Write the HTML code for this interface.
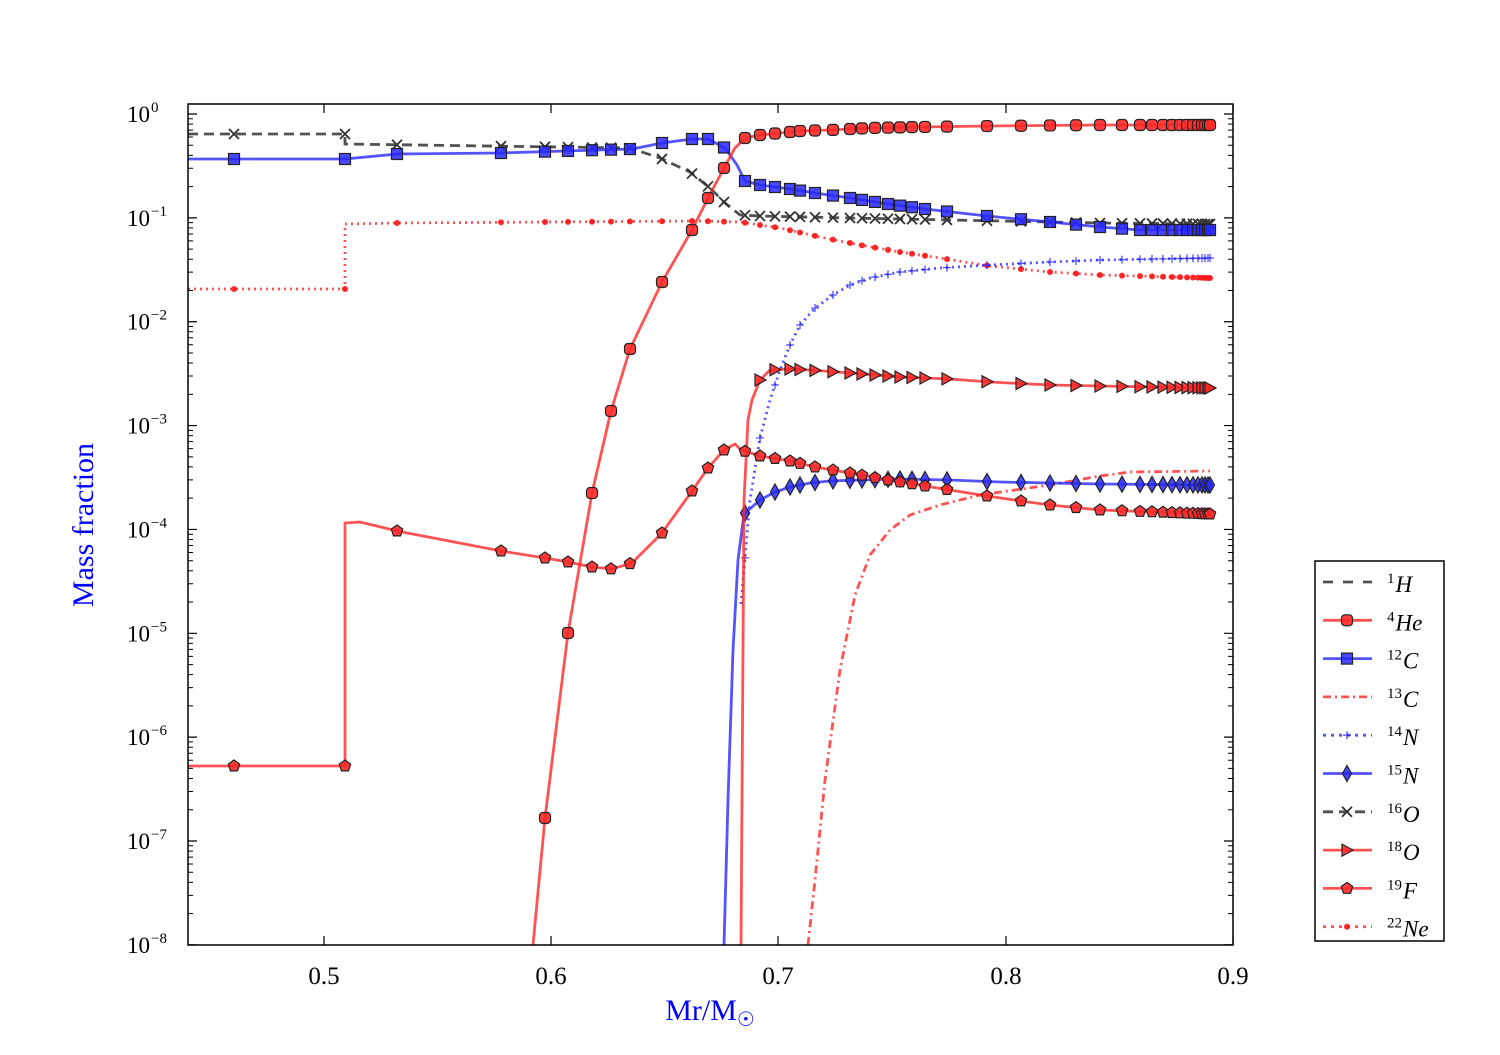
<!DOCTYPE html>
<html><head><meta charset="utf-8"><style>
html,body{margin:0;padding:0;background:#fff}
svg text{font-family:"Liberation Serif",serif}
</style></head><body>
<svg id="s" width="1500" height="1050" xmlns="http://www.w3.org/2000/svg"></svg>
<script>
const S=document.getElementById('s');let h='';
const RED='rgba(255,40,40,0.8)',BLUE='rgba(40,40,255,0.8)',GRAY='rgba(50,50,50,0.85)';
const L=188,R=1233,T=104,B=945;
h+=`<defs><clipPath id="c"><rect x="${L}" y="${T}" width="${R-L}" height="${B-T}"/></clipPath></defs>`;
const MX=[234,345,397,501,545,568,592,611,630,662,692,708,724,745,760,775,790,800,815,833,850,862,875,888,900,912,925,947,987,1021,1050,1076,1100,1122,1140,1152,1163,1172,1180,1187,1193,1198,1202,1205,1208,1210];
function interp(p,x){for(let i=0;i<p.length-1;i++){if(x>=p[i][0]&&x<=p[i+1][0]){const a=p[i],b=p[i+1];if(b[0]==a[0])return b[1];return a[1]+(b[1]-a[1])*(x-a[0])/(b[0]-a[0]);}}return null;}
function marker(t,x,y,fill){const st=`fill="${fill}" stroke="#222" stroke-width="1.2"`;
 if(t=='o')return `<rect x="${x-5.5}" y="${y-5.5}" width="11" height="11" rx="3.5" ${st}/>`;
 if(t=='s')return `<rect x="${x-5.5}" y="${y-5.5}" width="11" height="11" ${st}/>`;
 if(t=='d')return `<polygon points="${x},${y-8} ${x+4.5},${y} ${x},${y+8} ${x-4.5},${y}" ${st}/>`;
 if(t=='>')return `<polygon points="${x-5},${y-6} ${x+6},${y} ${x-5},${y+6}" ${st}/>`;
 if(t=='p'){let pts=[];for(let k=0;k<5;k++){const a=-Math.PI/2+k*2*Math.PI/5;pts.push((x+6*Math.cos(a)).toFixed(1)+','+(y+6*Math.sin(a)).toFixed(1));}return `<polygon points="${pts.join(' ')}" ${st}/>`;}
 if(t=='x')return `<path d="M${x-5} ${y-5}L${x+5} ${y+5}M${x-5} ${y+5}L${x+5} ${y-5}" stroke="#333" stroke-width="1.8"/>`;
 if(t=='+')return `<path d="M${x-4} ${y}L${x+4} ${y}M${x} ${y-4}L${x} ${y+4}" stroke="${BLUE}" stroke-width="1.3"/>`;
 if(t=='.')return `<circle cx="${x}" cy="${y}" r="3" fill="rgba(255,20,20,0.9)"/>`;
 return '';}
function series(p,col,dash,m,fill,mstart){h+=`<polyline clip-path="url(#c)" points="${p.map(q=>q.join(',')).join(' ')}" fill="none" stroke="${col}" stroke-width="2.8" ${dash?`stroke-dasharray="${dash}"`:''}/>`;
 if(!m)return;for(const x of MX){if(x<mstart)continue;const y=interp(p,x);if(y==null||y>B)continue;h+=marker(m,x,y,fill);}}
const O16=[[188,134],[345,134],[345,144],[630,148],[660,158],[690,172],[710,188],[725,203],[740,215],[760,216],[850,218],[950,220],[1100,223],[1210,224]];
const He=[[533,945],[545,818],[568,633],[592,493],[611,411],[630,349],[662,282],[692,230],[708,198],[724,168],[735,148],[745,138],[760,135],[780,133],[800,131],[830,130],[870,128],[920,127],[990,126],[1100,125],[1210,125]];
const C12=[[188,159],[345,159],[397,154],[501,153],[632,149],[662,143],[692,139],[708,139],[725,148],[737,165],[745,181],[760,185],[790,189],[815,193],[850,198],[888,204],[925,209],[987,216],[1050,222],[1100,227],[1140,230],[1210,230]];
const C13=[[808,945],[815,880],[825,780],[840,670],[855,595],[870,555],[890,530],[910,515],[940,505],[980,495],[1050,485],[1100,476],[1130,472],[1210,471]];
const N14=[[741,604],[750,500],[760,438],[770,400],[780,370],[790,345],[800,325],[815,308],[833,295],[850,285],[870,278],[900,272],[940,268],[990,265],[1050,262],[1100,260],[1210,258]];
const N15=[[724,945],[728,800],[733,650],[738,560],[744,514],[760,500],[775,492],[790,487],[810,483],[830,481],[860,480],[900,479],[950,480],[1000,482],[1100,484],[1210,485]];
const O18=[[741,945],[744,500],[748,420],[752,400],[760,380],[770,370],[790,369],[810,370],[850,373],[900,377],[950,379],[990,382],[1050,385],[1100,386],[1210,388]];
const F19=[[188,766],[345,766],[345,523],[360,522],[397,531],[501,551],[545,558],[568,562],[592,567],[612,569],[632,563],[662,533],[692,491],[708,468],[724,450],[735,444],[741,450],[760,456],[790,461],[815,467],[850,473],[888,480],[925,486],[987,496],[1021,501],[1050,505],[1100,510],[1210,514]];
const Ne=[[188,289],[345,289],[345,224],[397,223],[700,221],[740,222],[780,228],[820,237],[860,245],[900,252],[940,258],[990,266],[1050,272],[1100,275],[1210,278]];
series(Ne,RED,'2,4','.',null,230);
series(C13,RED,'8,4,2,4',null);
series(N14,BLUE,'2,4','+',null,744);
series(O16,GRAY,'10,6','x',null,230);
series(C12,BLUE,null,'s','rgba(40,40,255,0.85)',230);
series(He,RED,null,'o','rgba(255,40,40,0.9)',540);
series(N15,BLUE,null,'d','rgba(40,40,255,0.85)',745);
series(O18,RED,null,'>','rgba(255,40,40,0.9)',757);
series(F19,RED,null,'p','rgba(255,40,40,0.9)',230);
h+=`<rect x="${L}" y="${T}" width="${R-L}" height="${B-T}" fill="none" stroke="#000" stroke-width="1.5"/>`;
for(let d=0;d<=8;d++){const y=114+d*103.86;if(y<=B+1){h+=`<path d="M${L} ${y}h9M${R} ${y}h-9" stroke="#000" stroke-width="1.2"/>`;
 h+=`<text x="150" y="${y+8}" font-size="23" text-anchor="end">10</text><text x="151" y="${y-2}" font-size="15">${d==0?'0':'−'+d}</text>`;}
 for(let k=2;k<10;k++){const yy=y-Math.log10(k)*103.86;if(yy>T&&yy<B)h+=`<path d="M${L} ${yy}h5M${R} ${yy}h-5" stroke="#000" stroke-width="1"/>`;}}
const xs=[[324,'0.5'],[551,'0.6'],[778,'0.7'],[1006,'0.8'],[1233,'0.9']];
for(const [x,t] of xs){h+=`<path d="M${x} ${B}v-9M${x} ${T}v9" stroke="#000" stroke-width="1.2"/><text x="${x}" y="984" font-size="25" text-anchor="middle">${t}</text>`;}
h+=`<text x="710" y="1020" font-size="30" fill="#0000ff" text-anchor="middle">Mr/M<tspan font-size="20" dy="6">☉</tspan></text>`;
h+=`<text transform="translate(93,525) rotate(-90)" font-size="30" fill="#0000ff" text-anchor="middle">Mass fraction</text>`;
h+=`<rect x="1315" y="561" width="129" height="380" fill="#fff" stroke="#000" stroke-width="1.5"/>`;
const leg=[['1','H',GRAY,'10,10',''],['4','He',RED,null,'o'],['12','C',BLUE,null,'s'],['13','C',RED,'8,4,2,4',''],['14','N',BLUE,'3,5','+'],['15','N',BLUE,null,'d'],['16','O',GRAY,'10,6','x'],['18','O',RED,null,'>'],['19','F',RED,null,'p'],['22','Ne',RED,'3,5','.']];
leg.forEach((e,i)=>{const y=582+i*38.3;h+=`<line x1="1323" x2="1372" y1="${y}" y2="${y}" stroke="${e[2]}" stroke-width="2.8" ${e[3]?`stroke-dasharray="${e[3]}"`:''}/>`;
 if(e[4])h+=marker(e[4],1347,y,e[2]==BLUE?'rgba(40,40,255,0.85)':'rgba(255,40,40,0.9)');
 h+=`<text x="1387" y="${y+1}" font-size="15">${e[0]}</text><text x="${1387+e[0].length*7.5+1}" y="${y+10}" font-size="23" font-style="italic">${e[1]}</text>`;});
S.innerHTML=h;
</script>
</body></html>
